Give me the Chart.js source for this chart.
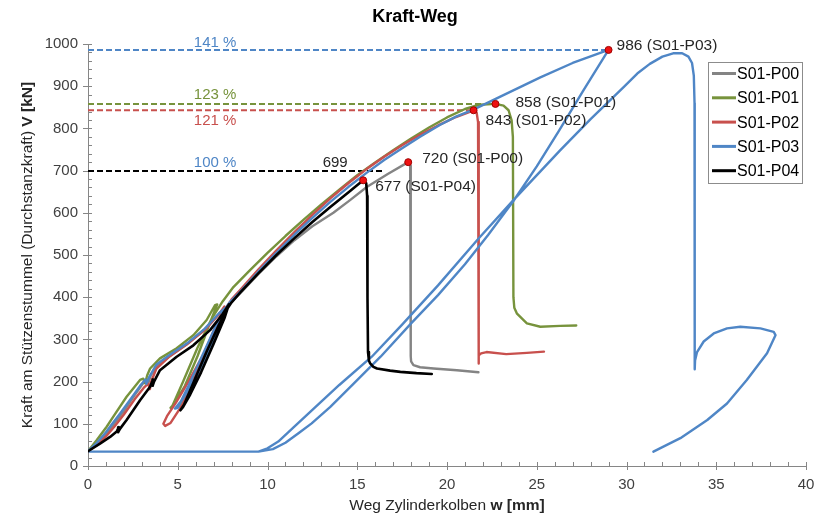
<!DOCTYPE html>
<html>
<head>
<meta charset="utf-8">
<script src="https://cdn.jsdelivr.net/npm/chart.js@4.4.1/dist/chart.umd.min.js"></script>
<style>
  body { margin: 0; background: #fff; }
  #wrap { width: 819px; height: 520px; position: relative; }
</style>
</head>
<body>
<div id="wrap"><canvas id="kraftWeg"></canvas></div>
<script>
// Kraft-Weg Kurven S01-P00 .. S01-P04 (w in mm, V in kN)

const seriesNames = ['S01-P00', 'S01-P01', 'S01-P02', 'S01-P03', 'S01-P04'];
const seriesColors = ['#848484', '#77933c', '#c8504d', '#4f86c6', '#000000'];

// S01-P00 (grau)
const p00W = [0, 0.5, 1.0, 1.4, 2.0, 2.6, 3.1, 3.3, 3.35, 3.5, 3.9, 4.6, 5.6, 6.6, 7.4, 7.8, 7.5, 6.8, 6.0, 5.4, 5.0, 5.15, 5.7, 6.5, 7.2, 7.7, 7.9,
  8.5, 9.5, 10.5, 11.5, 12.5, 13.67, 14.6, 15.53, 16.7, 17.84, 17.95, 17.98, 17.98, 18.0, 18.13, 18.5, 19.25, 20.55, 21.75];
const p00V = [35, 52, 75, 97, 130, 168, 198, 205, 195, 215, 240, 262, 292, 328, 365, 380, 345, 275, 205, 160, 140, 142, 195, 270, 335, 372, 385,
  410, 455, 497, 535, 568, 600, 630, 661, 692, 720, 712, 650, 260, 248, 239, 234, 231, 227, 222];

// S01-P01 (gruen)
const p01W = [0, 0.48, 1.04, 1.41, 2.15, 2.9, 3.08, 3.18, 3.3, 3.46, 4.01, 4.94, 5.87, 6.61, 7.08, 7.2, 6.8, 6.1, 5.4, 4.85, 4.6, 4.7, 5.3, 6.1, 6.9, 7.5,
  8.1, 9, 10, 11, 12, 13, 14, 15, 16, 17, 18, 19, 20, 21, 21.8, 22.7, 23.15, 23.43, 23.6, 23.67, 23.7, 23.75, 23.9, 24.45, 25.2, 26.3, 27.2];
const p01V = [35, 61, 93, 117, 164, 204, 207, 196, 215, 231, 255, 279, 310, 346, 381, 383, 340, 260, 190, 150, 138, 142, 200, 280, 350, 390,
  424, 463, 505, 545, 583, 620, 655, 689, 719, 748, 776, 802, 826, 846, 856, 858, 854, 843, 819, 780, 400, 375, 361, 338, 330, 332, 333];

// S01-P02 (rot)
const p02W = [0, 0.5, 1.0, 1.5, 2.0, 2.6, 3.1, 3.35, 3.45, 3.5, 3.8, 4.5, 5.5, 6.5, 7.3, 7.6, 7.3, 6.5, 5.6, 4.9, 4.4, 4.2, 4.3, 4.6, 5.3, 6.2, 7.1, 7.7, 8.0,
  8.5, 9.5, 10.5, 11.5, 12.5, 13.5, 14.5, 15.5, 16.5, 17.5, 18.5, 19.5, 20.5, 21.2, 21.48, 21.65, 21.73, 21.76, 21.76, 21.78, 21.9, 22.2, 23.3, 24.45, 25.4];
const p02V = [35, 50, 70, 95, 122, 158, 185, 195, 182, 198, 230, 258, 288, 322, 360, 378, 345, 270, 200, 150, 118, 100, 95, 102, 148, 240, 330, 375, 395,
  418, 466, 511, 554, 595, 634, 670, 703, 733, 760, 785, 807, 827, 838, 843, 838, 815, 780, 243, 262, 267, 270, 265, 268, 271];

// S01-P03 (blau): Erstbelastung, Entlastung, Wiederbelastung
const p03W = [0, 0.5, 1.0, 1.3, 1.8, 2.4, 2.9, 3.2, 3.25, 3.4, 3.8, 4.5, 5.5, 6.5, 7.3, 7.8, 7.5, 6.8, 6.0, 5.3, 4.85, 5.0, 5.6, 6.4, 7.1, 7.6, 7.9,
  8.5, 9.5, 10.5, 11.5, 12.5, 13.5, 14.5, 15.5, 16.5, 17.5, 18.5, 19.6, 20.5, 21.5, 23, 25.2, 27, 29,
  27.6, 26.2, 25, 23.7, 22.3, 21, 19.5, 18, 16.3, 14.8, 13.5, 12.46, 11.8, 11, 10.3, 9.5, 0.1, 9.5,
  10.0, 10.6, 11.54, 12.5, 14, 15.81, 17.5, 19.5, 21.76, 23.7, 26.3, 28, 29.84, 30.6, 31.3, 32.0, 32.6, 33.1, 33.45, 33.65, 33.75, 33.79, 33.8,
  33.82, 33.93, 34.3, 34.86, 35.6, 36.34, 37.46, 38.2, 38.3, 37.83, 36.7, 35.6, 34.5, 33.0, 31.5];
const p03V = [35, 55, 80, 97, 125, 160, 190, 205, 195, 210, 240, 262, 290, 325, 362, 380, 350, 280, 210, 160, 136, 138, 190, 265, 330, 370, 388,
  414, 461, 505, 548, 588, 626, 661, 694, 725, 753, 780, 808, 828, 845, 876, 921, 955, 986,
  890, 792, 710, 628, 548, 478, 405, 338, 259, 195, 140, 101, 80, 55, 40, 34, 34, 34,
  42, 58, 95, 133, 192, 259, 335, 428, 539, 630, 748, 822, 898, 930, 953, 970, 978, 978, 970, 955, 925, 860, 229,
  250, 270, 295, 314, 326, 330, 326, 318, 310, 267, 204, 148, 109, 66, 34];

// S01-P04 (schwarz)
const p04W = [0, 0.67, 1.23, 1.6, 1.72, 1.68, 1.78, 2.15, 2.9, 3.46, 3.62, 3.6, 3.68, 4.01, 4.94, 5.87, 6.8, 7.5, 7.85, 7.6, 7.0, 6.3, 5.7, 5.3, 5.15, 5.35, 5.9, 6.6, 7.3, 7.75, 8.0,
  8.5, 9.5, 10.5, 11.5, 12.5, 13.5, 14.5, 15.33, 15.5, 15.55, 15.57, 15.6, 15.65, 15.72, 15.9, 16.1, 16.83, 17.4, 18.3, 19.15];
const p04V = [35, 53, 69, 82, 92, 80, 88, 109, 156, 188, 205, 190, 200, 227, 259, 286, 322, 360, 383, 350, 290, 222, 170, 140, 132, 145, 200, 270, 335, 372, 388,
  412, 457, 500, 540, 578, 614, 648, 677, 670, 640, 400, 270, 250, 243, 235, 231, 226, 223, 220, 218];

// Hoechstlasten
const peakW = [17.84, 22.7, 21.48, 29.0, 15.33];
const peakV = [720, 858, 843, 986, 677];
const peakLabels = ['720 (S01-P00)', '858 (S01-P01)', '843 (S01-P02)', '986 (S01-P03)', '677 (S01-P04)'];

// Bezugslinien (gestrichelt)
const refV = [986, 858, 843, 699];
const refEndW = [29.0, 22.7, 21.48, 16.45];
const refColors = ['#4f86c6', '#77933c', '#c8504d', '#000000'];
const refPercent = ['141 %', '123 %', '121 %', '100 %'];
const refPercentColors = ['#4f86c6', '#77933c', '#c8504d', '#4f86c6'];

const xTicks = [0, 5, 10, 15, 20, 25, 30, 35, 40];
const yTicks = [0, 100, 200, 300, 400, 500, 600, 700, 800, 900, 1000];

const FONT = '"Liberation Sans", Arial, sans-serif';

function pts(w, v) {
    return w.map((x, i) => ({ x: x, y: v[i] }));
}

const curves = [[p00W, p00V], [p01W, p01V], [p02W, p02V], [p03W, p03V], [p04W, p04V]];

const datasets = [];

// markers first -> drawn on top
datasets.push({
    label: 'peaks',
    data: pts(peakW, peakV),
    showLine: false,
    pointRadius: 3.5,
    pointBackgroundColor: '#ee1111',
    pointBorderColor: '#a00000',
    pointBorderWidth: 1
});

// black on top, then blue, red, green, grey
[4, 3, 2, 1, 0].forEach(i => {
    datasets.push({
        label: seriesNames[i],
        data: pts(curves[i][0], curves[i][1]),
        showLine: true,
        borderColor: seriesColors[i],
        borderWidth: i === 4 ? 2.6 : 2.4,
        pointRadius: 0,
        tension: 0,
        borderJoinStyle: 'round',
        borderCapStyle: 'round'
    });
});

refV.forEach((v, i) => {
    datasets.push({
        label: 'ref' + i,
        data: [{ x: 0, y: v }, { x: refEndW[i], y: v }],
        showLine: true,
        borderColor: refColors[i],
        borderWidth: 2,
        borderDash: [6, 3],
        pointRadius: 0
    });
});

function mixedText(ctx, parts, x, y) {
    // parts: [[text, bold]], centred on x
    let total = 0;
    parts.forEach(p => {
        ctx.font = (p[1] ? 'bold ' : '') + '15.5px ' + FONT;
        total += ctx.measureText(p[0]).width;
    });
    let cx = x - total / 2;
    parts.forEach(p => {
        ctx.font = (p[1] ? 'bold ' : '') + '15.5px ' + FONT;
        ctx.fillText(p[0], cx, y);
        cx += ctx.measureText(p[0]).width;
    });
}

const decor = {
    id: 'decor',
    beforeDatasetsDraw(chart) {
        const ctx = chart.ctx;
        const xs = chart.scales.x, ys = chart.scales.y;
        const a = chart.chartArea;
        ctx.save();
        ctx.strokeStyle = '#868686';
        ctx.lineWidth = 1;
        ctx.beginPath();
        for (let v = 0; v <= 1000; v += 20) {
            const py = Math.round(ys.getPixelForValue(v)) + 0.5;
            const major = v % 100 === 0;
            ctx.moveTo(a.left - (major ? 5 : 0), py);
            ctx.lineTo(a.left + 4, py);
        }
        for (let w = 0; w <= 40; w += 1) {
            const px = Math.round(xs.getPixelForValue(w)) + 0.5;
            const major = w % 5 === 0;
            ctx.moveTo(px, a.bottom - 4);
            ctx.lineTo(px, a.bottom + (major ? 4 : 0));
        }
        ctx.stroke();
        ctx.restore();
    },
    afterDraw(chart) {
        const ctx = chart.ctx;
        const xs = chart.scales.x, ys = chart.scales.y;
        ctx.save();

        // Titel
        ctx.fillStyle = '#000';
        ctx.font = 'bold 18px ' + FONT;
        ctx.textAlign = 'center';
        ctx.textBaseline = 'middle';
        ctx.fillText('Kraft-Weg', 415, 17);

        // Achsentitel
        ctx.textAlign = 'left';
        ctx.fillStyle = '#262626';
        mixedText(ctx, [['Weg Zylinderkolben ', false], ['w [mm]', true]], 447, 506);
        ctx.save();
        ctx.translate(28, 255);
        ctx.rotate(-Math.PI / 2);
        mixedText(ctx, [['Kraft am Stützenstummel (Durchstanzkraft) ', false], ['V [kN]', true]], 0, 0);
        ctx.restore();

        // Prozentangaben an den Bezugslinien
        const pctDy = [-7, -9, 11, -8];
        ctx.font = '15px ' + FONT;
        ctx.textAlign = 'center';
        refPercent.forEach((t, i) => {
            ctx.fillStyle = refPercentColors[i];
            ctx.fillText(t, xs.getPixelForValue(7.08), ys.getPixelForValue(refV[i]) + pctDy[i]);
        });
        ctx.fillStyle = '#262626';
        ctx.fillText(String(refV[3]), xs.getPixelForValue(13.77), ys.getPixelForValue(refV[3]) - 8);

        // Beschriftung der Hoechstlasten
        const lblOff = [[14, -3], [20, -1.5], [12, 10], [8, -4], [12, 6]];
        ctx.textAlign = 'left';
        ctx.font = '15.5px ' + FONT;
        ctx.fillStyle = '#262626';
        peakLabels.forEach((t, i) => {
            ctx.fillText(t, xs.getPixelForValue(peakW[i]) + lblOff[i][0], ys.getPixelForValue(peakV[i]) + lblOff[i][1]);
        });

        // Legende
        const lx = 708, ly = 62, lw = 94, lh = 121;
        ctx.fillStyle = '#fff';
        ctx.fillRect(lx, ly, lw, lh);
        ctx.strokeStyle = '#8c8c8c';
        ctx.lineWidth = 1;
        ctx.strokeRect(lx + 0.5, ly + 0.5, lw, lh);
        ctx.font = '16px ' + FONT;
        seriesNames.forEach((n, i) => {
            const y = ly + 11.5 + i * 24.3;
            ctx.strokeStyle = seriesColors[i];
            ctx.lineWidth = 3;
            ctx.beginPath();
            ctx.moveTo(lx + 4, y);
            ctx.lineTo(lx + 28, y);
            ctx.stroke();
            ctx.fillStyle = '#000';
            ctx.fillText(n, lx + 29, y + 1);
        });
        ctx.restore();
    }
};

const ctx = document.getElementById('kraftWeg').getContext('2d');

const chart = new Chart(ctx, {
    type: 'scatter',
    data: { datasets: datasets },
    options: {
        responsive: true,
        maintainAspectRatio: false,
        animation: false,
        layout: { padding: { top: 44, right: 13, left: 0, bottom: 0 } },
        plugins: {
            legend: { display: false },
            title: { display: false },
            tooltip: { enabled: false }
        },
        scales: {
            x: {
                type: 'linear',
                min: 0,
                max: 40,
                afterFit: (s) => { s.height = 54; s.paddingLeft = 0; s.paddingRight = 0; },
                afterBuildTicks: (s) => { s.ticks = xTicks.map(v => ({ value: v })); },
                ticks: { font: { size: 15, family: FONT }, color: '#404040', padding: 10, maxRotation: 0, callback: (v) => String(v) },
                grid: { display: false, drawTicks: false },
                border: { color: '#868686', width: 1 }
            },
            y: {
                type: 'linear',
                min: 0,
                max: 1000,
                afterFit: (s) => { s.width = 88; s.paddingTop = 0; s.paddingBottom = 0; },
                afterBuildTicks: (s) => { s.ticks = yTicks.map(v => ({ value: v })); },
                ticks: { font: { size: 15, family: FONT }, color: '#404040', padding: 10, callback: (v) => String(v) },
                grid: { display: false, drawTicks: false },
                border: { color: '#868686', width: 1 }
            }
        }
    },
    plugins: [decor]
});
</script>
</body>
</html>
